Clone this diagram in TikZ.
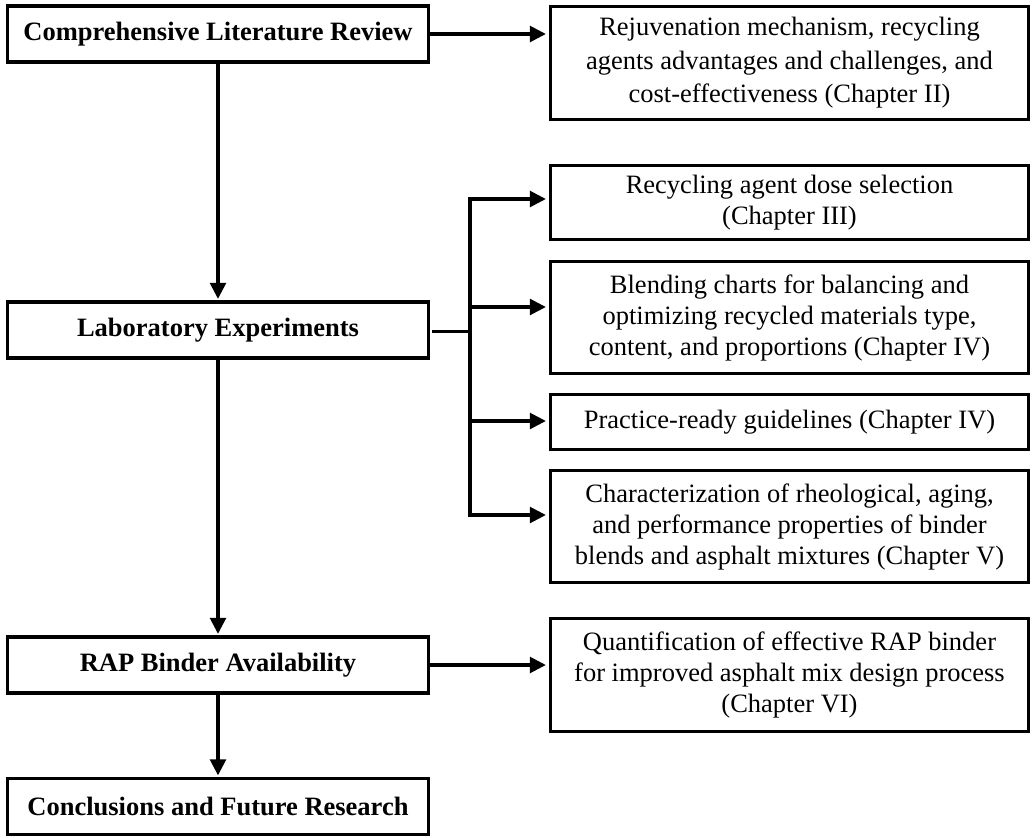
\documentclass[tikz,border=0pt]{standalone}
\usepackage{fontspec}
\setmainfont{Liberation Serif}
\usetikzlibrary{arrows.meta,calc}
\begin{document}
\begin{tikzpicture}[x=1pt,y=-1pt,
  box/.style={draw,line width=3.1pt,align=center,inner sep=0pt,font=\fontsize{26.5}{31}\selectfont},
  lbox/.style={box,minimum width=421pt,minimum height=56pt,font=\fontsize{26.5}{31}\selectfont\bfseries},
  rbox/.style={box,minimum width=478pt},
  conn/.style={line width=3.6pt},
  arr/.style={conn,-{Triangle[length=16pt,width=15.5pt]}}
]
\fill[white] (0,0) rectangle (1032,837);
\useasboundingbox (0,0) rectangle (1032,837);

\node[lbox] (clr) at (218,34) {Comprehensive Literature Review};
\node[lbox] (lab) at (218,330) {Laboratory Experiments};
\node[lbox] (rap) at (218,665) {RAP Binder Availability};
\node[lbox] (con) at (218,806.5) {Conclusions and Future Research};

\node[rbox,minimum height=113pt,font=\fontsize{26.5}{33.5}\selectfont] (b1) at (789.5,63) {Rejuvenation mechanism, recycling\\agents advantages and challenges, and\\cost-effectiveness (Chapter II)};
\node[rbox,minimum height=74pt] (b2) at (789.5,202.5) {Recycling agent dose selection\\(Chapter III)};
\node[rbox,minimum height=112pt] (b3) at (789.5,317.5) {Blending charts for balancing and\\optimizing recycled materials type,\\content, and proportions (Chapter IV)};
\node[rbox,minimum height=55pt] (b4) at (789.5,422) {Practice-ready guidelines (Chapter IV)};
\node[rbox,minimum height=112pt] (b5) at (789.5,526.5) {Characterization of rheological, aging,\\and performance properties of binder\\blends and asphalt mixtures (Chapter V)};
\node[rbox,minimum height=113pt] (b6) at (789.5,675) {Quantification of effective RAP binder\\for improved asphalt mix design process\\(Chapter VI)};

\draw[arr,shorten >=3pt] (clr.east) -- (clr.east -| b1.west);
\draw[arr,shorten >=1.5pt] (clr.south) -- (lab.north);
\draw[arr,shorten >=1.5pt] (lab.south) -- (rap.north);
\draw[arr,shorten >=1.5pt] (rap.south) -- (con.north);
\draw[arr,shorten >=3pt] (rap.east) -- (rap.east -| b6.west);

\coordinate (br) at (470,331.5);
\coordinate (t2) at ([yshift=3.5pt]b2.west);
\coordinate (t3) at ([yshift=10.5pt]b3.west);
\coordinate (t4) at ([yshift=1pt]b4.west);
\coordinate (t5) at ([yshift=11.5pt]b5.west);

\draw[line width=3pt,shorten <=2pt] (lab.east |- br) -- (br);
\draw[arr,shorten >=3pt] (br) -- (br |- t2) -- (t2);
\draw[arr,shorten >=3pt] (br) -- (br |- t5) -- (t5);
\draw[arr,shorten >=3pt] (br |- t3) -- (t3);
\draw[arr,shorten >=3pt] (br |- t4) -- (t4);
\end{tikzpicture}
\end{document}
